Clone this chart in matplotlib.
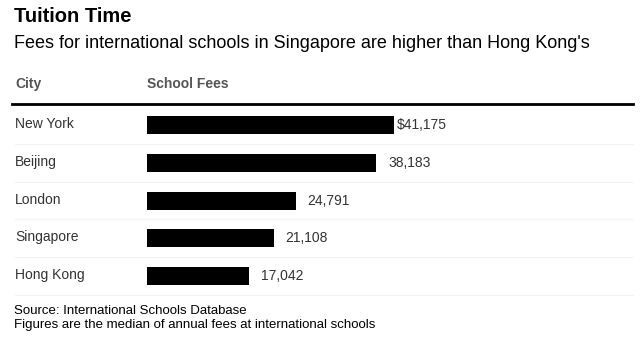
import matplotlib
matplotlib.use("Agg")
import matplotlib.pyplot as plt
from matplotlib.lines import Line2D

plt.rcParams['font.family'] = ['Liberation Sans', 'DejaVu Sans']

cities = ["New York", "Beijing", "London", "Singapore", "Hong Kong"]
fees = [41175, 38183, 24791, 21108, 17042]
value_labels = ["$41,175", "38,183", "24,791", "21,108", "17,042"]

W, H = 640, 344
fig = plt.figure(figsize=(W / 100, H / 100), dpi=100)
fig.patch.set_facecolor("white")

def fx(px):
    return px / W

def fy(py):
    return 1 - py / H

# Titles and column headers
fig.text(fx(14.5), fy(17), "Tuition Time", fontsize=14.5, fontweight="bold",
         color="#000000", va="center", ha="left")
fig.text(fx(14.5), fy(44), "Fees for international schools in Singapore are higher than Hong Kong's",
         fontsize=13, color="#000000", va="center", ha="left")
fig.text(fx(15), fy(84), "City", fontsize=10, fontweight="bold",
         color="#555555", va="center", ha="left")
fig.text(fx(147), fy(84), "School Fees", fontsize=10, fontweight="bold",
         color="#555555", va="center", ha="left")

# Header rule
fig.add_artist(Line2D([fx(12), fx(633)], [fy(104), fy(104)],
                      color="black", linewidth=2, transform=fig.transFigure))

# Bars
px_per_unit = 247 / 41175
ax = fig.add_axes([fx(147), fy(295), fx(633) - fx(147), fy(104) - fy(295)])
ax.set_xlim(0, 486 / px_per_unit)
ax.set_ylim(4.5, -0.56)
ypos = list(range(len(cities)))
ax.barh(ypos, fees, height=0.48, color="black")
for y, v, lab in zip(ypos, fees, value_labels):
    gap_px = 3 if lab.startswith("$") else 12
    ax.text(v + gap_px / px_per_unit, y, lab, va="center", ha="left",
            fontsize=10, color="#333333")
ax.axis("off")

# City labels and faint row separators
for i, city in enumerate(cities):
    yc = 125 + 37.75 * i
    fig.text(fx(15), fy(yc - 1), city, fontsize=10, color="#333333",
             va="center", ha="left")
    ys = 143.9 + 37.75 * i
    fig.add_artist(Line2D([fx(15), fx(633)], [fy(ys), fy(ys)],
                          color="#f3f3f3", linewidth=0.8, transform=fig.transFigure))

# Footer notes
fig.text(fx(14), fy(311), "Source: International Schools Database", fontsize=9.5,
         color="#000000", va="center", ha="left")
fig.text(fx(14), fy(325), "Figures are the median of annual fees at international schools",
         fontsize=9.5, color="#000000", va="center", ha="left")

fig.savefig("out.png", dpi=100, facecolor="white")
